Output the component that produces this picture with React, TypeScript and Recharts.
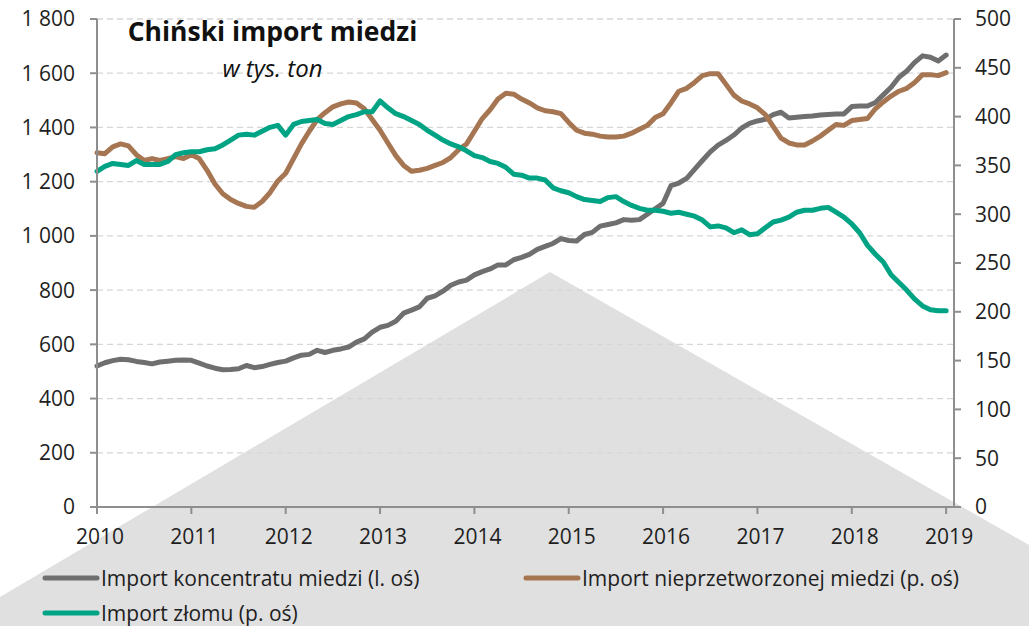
import React from 'react';
import { LineChart, Line, XAxis, YAxis, CartesianGrid } from 'recharts';

// ---- data (monthly, Jan 2010 – Jan 2019) ----
const yearLabels = ['2010', '2011', '2012', '2013', '2014', '2015', '2016', '2017', '2018', '2019'];
const yearTickIndex = [0, 12, 24, 36, 48, 60, 72, 84, 96, 108];

// Import koncentratu miedzi (left axis)
const koncentrat = [
  520, 532, 540, 545, 543, 537, 533, 528, 535, 538,
  541, 542, 541, 531, 520, 512, 506, 507, 510, 522,
  514, 518, 526, 533, 538, 550, 560, 563, 578, 570,
  578, 583, 590, 608, 620, 645, 663, 670, 685, 715,
  726, 738, 770, 779, 796, 818, 830, 837, 856, 868,
  878, 893, 893, 912, 921, 932, 950, 961, 972, 990,
  983, 981, 1005, 1013, 1036, 1042, 1048, 1060, 1058, 1060,
  1080, 1100, 1120, 1185, 1195, 1212, 1245, 1278, 1310, 1335,
  1352, 1372, 1398, 1415, 1424, 1430, 1447, 1456, 1435, 1438,
  1440, 1442, 1446, 1448, 1450, 1450, 1477, 1479, 1479, 1492,
  1520, 1548, 1585, 1608, 1640, 1664, 1659, 1645, 1667,
];

// Import nieprzetworzonej miedzi (right axis)
const nieprzetworzona = [
  363, 362, 369, 372, 370, 361, 355, 357, 355, 357,
  359, 357, 361, 357, 345, 331, 321, 315, 311, 308,
  307, 313, 322, 334, 342, 357, 372, 385, 397, 404,
  410, 413, 415, 414, 408, 397, 386, 373, 360, 350,
  344, 345, 347, 350, 353, 358, 366, 372, 385, 398,
  407, 418, 424, 423, 418, 414, 409, 406, 405, 403,
  394, 386, 383, 382, 380, 379, 379, 380, 383, 387,
  391, 399, 403, 414, 426, 429, 435, 442, 444, 444,
  433, 422, 416, 413, 409, 402, 390, 378, 373, 371,
  371, 375, 380, 386, 392, 391, 396, 397, 398, 408,
  415, 421, 426, 429, 435, 443, 443, 442, 445,
];

// Import złomu (right axis)
const zlom = [
  344, 349, 352, 351, 350, 355, 351, 351, 351, 354,
  361, 363, 364, 364, 366, 367, 371, 376, 381, 382,
  381, 385, 389, 391, 381, 392, 395, 396, 397, 393,
  392, 396, 400, 402, 405, 405, 416, 409, 403, 400,
  396, 392, 386, 381, 376, 372, 369, 365, 360, 358,
  354, 352, 348, 341, 340, 337, 337, 335, 327, 324,
  322, 318, 315, 314, 313, 317, 318, 313, 309, 306,
  304, 304, 303, 301, 302, 300, 298, 294, 287, 288,
  286, 281, 284, 279, 280, 286, 292, 294, 297, 302,
  304, 304, 306, 307, 302, 297, 290, 281, 268, 259,
  251, 238, 230, 222, 213, 206, 202, 201, 201,
];

const leftTicks = [0, 200, 400, 600, 800, 1000, 1200, 1400, 1600, 1800];
const rightTicks = [0, 50, 100, 150, 200, 250, 300, 350, 400, 450, 500];

const seriesNames = [
  'Import koncentratu miedzi (l. oś)',
  'Import nieprzetworzonej miedzi (p. oś)',
  'Import złomu (p. oś)',
];
const seriesKeys = ['koncentrat', 'nieprzetworzona', 'zlom'];
const seriesColors = ['#6f6f6f', '#A67552', '#00A383'];
const seriesAxes = ['left', 'right', 'right'];

const titleText = 'Chiński import miedzi';
const subtitleText = 'w tys. ton';

const data = koncentrat.map((v, i) => ({
  i,
  koncentrat: v,
  nieprzetworzona: nieprzetworzona[i],
  zlom: zlom[i],
}));

const FONT = '"Open Sans", "DejaVu Sans", sans-serif';
const tickStyle = { fontSize: 21, fill: '#1e1e1e', fontFamily: FONT };
const xTickStyle = { ...tickStyle, dx: 3 };
const axisColor = '#8e8e8e';

const fmtLeft = (v: number) =>
  v >= 1000 ? `${Math.floor(v / 1000)}\u00A0${String(v % 1000).padStart(3, '0')}` : String(v);
const fmtYear = (v: number) => {
  const k = yearTickIndex.indexOf(v);
  return k >= 0 ? yearLabels[k] : '';
};

export default function App() {
  return (
    <div
      style={{
        position: 'absolute',
        left: 0,
        top: 0,
        width: 1029,
        height: 626,
        background: '#ffffff',
        fontFamily: FONT,
        overflow: 'hidden',
      }}
    >
      {/* decorative background shape */}
      <svg width={1029} height={626} style={{ position: 'absolute', left: 0, top: 0 }}>
        <polygon points="550,272 1029,545 1029,626 0,626 0,597" fill="#e0e0e0" />
      </svg>

      <div style={{ position: 'absolute', left: 0, top: 0 }}>
        <LineChart
          width={1029}
          height={626}
          data={data}
          margin={{ top: 19, right: 5, left: 7, bottom: 79 }}
        >
          <CartesianGrid
            yAxisId="left"
            vertical={false}
            stroke="#d6d6d6"
            strokeDasharray="6 4"
            strokeWidth={1.3}
          />
          <XAxis
            dataKey="i"
            type="number"
            domain={[0, 109]}
            ticks={yearTickIndex}
            interval={0}
            tickFormatter={fmtYear}
            height={40}
            tick={xTickStyle}
            tickSize={7}
            tickMargin={15}
            stroke={axisColor}
            strokeWidth={2}
            tickLine={{ stroke: axisColor, strokeWidth: 2 }}
          />
          <YAxis
            yAxisId="left"
            orientation="left"
            domain={[0, 1800]}
            ticks={leftTicks}
            interval={0}
            tickFormatter={fmtLeft}
            width={90}
            tick={tickStyle}
            tickSize={7}
            tickMargin={15}
            stroke={axisColor}
            strokeWidth={2}
            tickLine={{ stroke: axisColor, strokeWidth: 2 }}
          />
          <YAxis
            yAxisId="right"
            orientation="right"
            domain={[0, 500]}
            ticks={rightTicks}
            interval={0}
            width={70}
            tick={tickStyle}
            tickSize={7}
            tickMargin={14}
            stroke={axisColor}
            strokeWidth={2}
            tickLine={{ stroke: axisColor, strokeWidth: 2 }}
          />
          {seriesKeys.map((k, idx) => (
            <Line
              key={k}
              yAxisId={seriesAxes[idx]}
              dataKey={k}
              name={seriesNames[idx]}
              type="linear"
              stroke={seriesColors[idx]}
              strokeWidth={5}
              strokeLinecap="round"
              strokeLinejoin="round"
              dot={false}
              activeDot={false}
              isAnimationActive={false}
            />
          ))}
        </LineChart>
      </div>

      {/* title, subtitle and legend */}
      <svg width={1029} height={626} style={{ position: 'absolute', left: 0, top: 0, pointerEvents: 'none' }}>
        <text x={272.5} y={41} textAnchor="middle" fontFamily={FONT} fontWeight={700} fontSize={26.5} fill="#111">
          {titleText}
        </text>
        <text x={272.5} y={77} textAnchor="middle" fontFamily={FONT} fontStyle="italic" fontSize={24} fill="#111">
          {subtitleText}
        </text>
        {seriesNames.map((name, idx) => {
          const col = idx % 2;
          const row = Math.floor(idx / 2);
          const x0 = col === 0 ? 43 : 524;
          const y0 = row === 0 ? 578 : 613;
          return (
            <g key={name}>
              <line x1={x0 + 2} y1={y0} x2={x0 + 54} y2={y0} stroke={seriesColors[idx]} strokeWidth={5} strokeLinecap="round" />
              <text x={x0 + 58} y={y0} dy="0.36em" fontFamily={FONT} fontSize={21} fill="#1e1e1e">
                {name}
              </text>
            </g>
          );
        })}
      </svg>
    </div>
  );
}
